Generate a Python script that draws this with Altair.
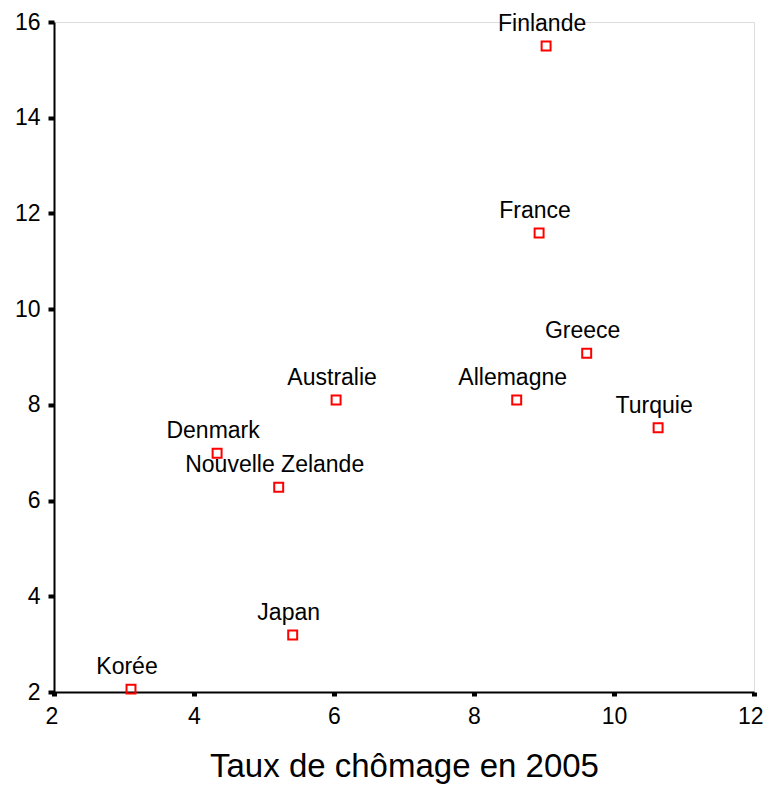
import altair as alt
import pandas as pd

countries = ["Finlande", "France", "Greece", "Allemagne", "Turquie", "Australie",
             "Denmark", "Nouvelle Zelande", "Japan", "Korée"]
chomage = [9.03, 8.93, 9.61, 8.61, 10.63, 6.03, 4.33, 5.21, 5.41, 3.10]
yvals = [15.5, 11.59, 9.08, 8.10, 7.52, 8.10, 6.99, 6.28, 3.19, 2.06]

df = pd.DataFrame({"pays": countries, "x": chomage, "y": yvals})

FONT = "Liberation Sans"

xenc = alt.X("x:Q", scale=alt.Scale(domain=[2, 12], nice=False, zero=False),
             axis=alt.Axis(title="Taux de chômage en 2005", values=[2, 4, 6, 8, 10, 12],
                           format="d", labelFlush=True, labelFlushOffset=9,
                           grid=False, domainColor="black", domainWidth=2,
                           tickColor="black", tickWidth=5, tickSize=4,
                           labelFontSize=23, labelFont=FONT, labelColor="black",
                           labelPadding=9, titleFontSize=33, titleFont=FONT,
                           titleFontWeight="normal", titleColor="black", titlePadding=22))
yenc = alt.Y("y:Q", scale=alt.Scale(domain=[2, 16], nice=False, zero=False),
             axis=alt.Axis(title=None, values=[2, 4, 6, 8, 10, 12, 14, 16],
                           format="d", labelFlush=False,
                           grid=False, domainColor="black", domainWidth=2,
                           tickColor="black", tickWidth=4, tickSize=6,
                           labelFontSize=23, labelFont=FONT, labelColor="black",
                           labelPadding=8))

pts = alt.Chart(df).mark_point(shape="square", filled=False, color="#ff0000",
                               size=80, strokeWidth=2, opacity=1).encode(x=xenc, y=yenc)

labels = alt.Chart(df).mark_text(font=FONT, fontSize=23, color="black",
                                 baseline="alphabetic", dy=-15, dx=-4).encode(
    x="x:Q", y="y:Q", text="pays:N")

chart = (pts + labels).properties(
    width=700, height=670,
    autosize=alt.AutoSizeParams(type="none"),
    padding={"left": 46, "top": 14, "right": 9, "bottom": 110},
).configure_view(stroke=None).configure(background="white")

chart.save("out.html", embed_options={"renderer": "svg", "actions": False})
